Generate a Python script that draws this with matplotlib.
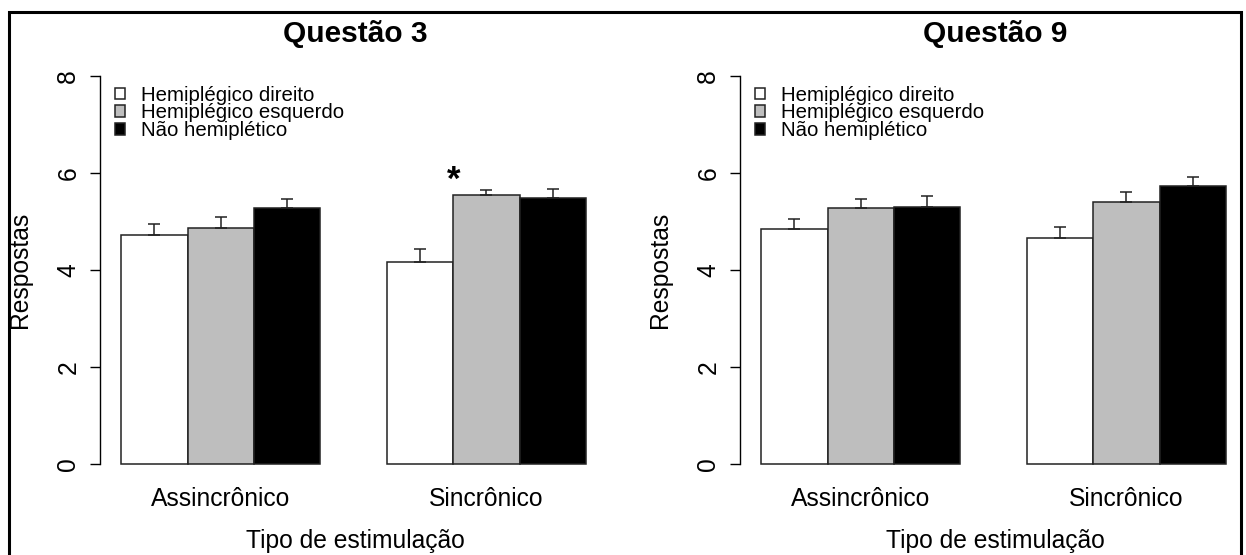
import matplotlib.pyplot as plt
from matplotlib.patches import Rectangle

plt.rcParams['font.family'] = ['Liberation Sans', 'DejaVu Sans']

grupos = ['Hemiplégico direito', 'Hemiplégico esquerdo', 'Não hemiplético']
cores = ['white', '#bebebe', 'black']
condicoes = ['Assincrônico', 'Sincrônico']
yticks = [0, 2, 4, 6, 8]

# medias por condicao (linhas) e grupo (colunas)
q3_media = [[4.72, 4.87, 5.27], [4.16, 5.54, 5.49]]
q3_erro = [[0.22, 0.23, 0.19], [0.27, 0.12, 0.19]]
q9_media = [[4.84, 5.27, 5.30], [4.67, 5.40, 5.73]]
q9_erro = [[0.21, 0.19, 0.23], [0.22, 0.20, 0.18]]

# asterisco de significancia na questao 3 (x, y)
q3_star = (6.0, 5.66)

FS = 17.7


def draw_panel(ax, media, erro, title, star=None):
    for i, g in enumerate(grupos):
        xs = [1 + c * 4 + i + 0.5 for c in range(len(condicoes))]
        h = [media[c][i] for c in range(len(condicoes))]
        e = [erro[c][i] for c in range(len(condicoes))]
        ax.bar(xs, h, width=1, color=cores[i], edgecolor='#222222',
               linewidth=1.1, label=g, zorder=2)
        ax.errorbar(xs, h, yerr=[[0] * len(e), e], fmt='none',
                    ecolor='#222222', elinewidth=1.1, capsize=4.2,
                    capthick=1.1, zorder=3)
    if star is not None:
        ax.text(star[0], star[1], '*', ha='center', va='baseline',
                fontsize=25, fontweight='bold')

    ax.set_xlim(0.68, 8.24)
    ax.set_ylim(-0.32, 8.32)
    for s in ['top', 'right', 'bottom']:
        ax.spines[s].set_visible(False)
    ax.spines['left'].set_bounds(0, 8)
    ax.spines['left'].set_linewidth(1.0)

    ax.set_yticks(yticks)
    ax.tick_params(axis='y', length=7.2, width=1.0, pad=7.0,
                   labelsize=FS, labelrotation=90)
    plt.setp(ax.get_yticklabels(), va='center')
    ax.set_xticks([2.5, 6.5], condicoes)
    ax.tick_params(axis='x', length=0, pad=5.4, labelsize=FS)

    ax.set_ylabel('Respostas', fontsize=FS)
    ax.yaxis.set_label_coords(-0.136, 0.5)
    ax.set_xlabel('Tipo de estimulação', fontsize=FS)
    ax.xaxis.set_label_coords(0.508, -0.118)
    ax.set_title(title, fontsize=21.5, fontweight='bold', pad=13, x=0.508)

    ax.legend(loc='upper left', bbox_to_anchor=(0.03, 0.94), frameon=False,
              fontsize=14.7, handlelength=0.5, handleheight=0.5,
              handletextpad=0.75, labelspacing=-0.06, borderpad=0,
              borderaxespad=0)


fig = plt.figure(figsize=(12.46, 5.55), dpi=100)
ax1 = fig.add_axes([100 / 1246, 0.136, 502 / 1246, 0.755])
ax2 = fig.add_axes([740 / 1246, 0.136, 502 / 1246, 0.755])

draw_panel(ax1, q3_media, q3_erro, 'Questão 3', star=q3_star)
draw_panel(ax2, q9_media, q9_erro, 'Questão 9')

# moldura
fig.patches.append(Rectangle((8.5 / 1246, -0.05), (1241 - 8.5) / 1246, 1.05 - 11.5 / 555,
                             transform=fig.transFigure, fill=False,
                             edgecolor='black', linewidth=2.2))

plt.savefig('out.png', dpi=100)
